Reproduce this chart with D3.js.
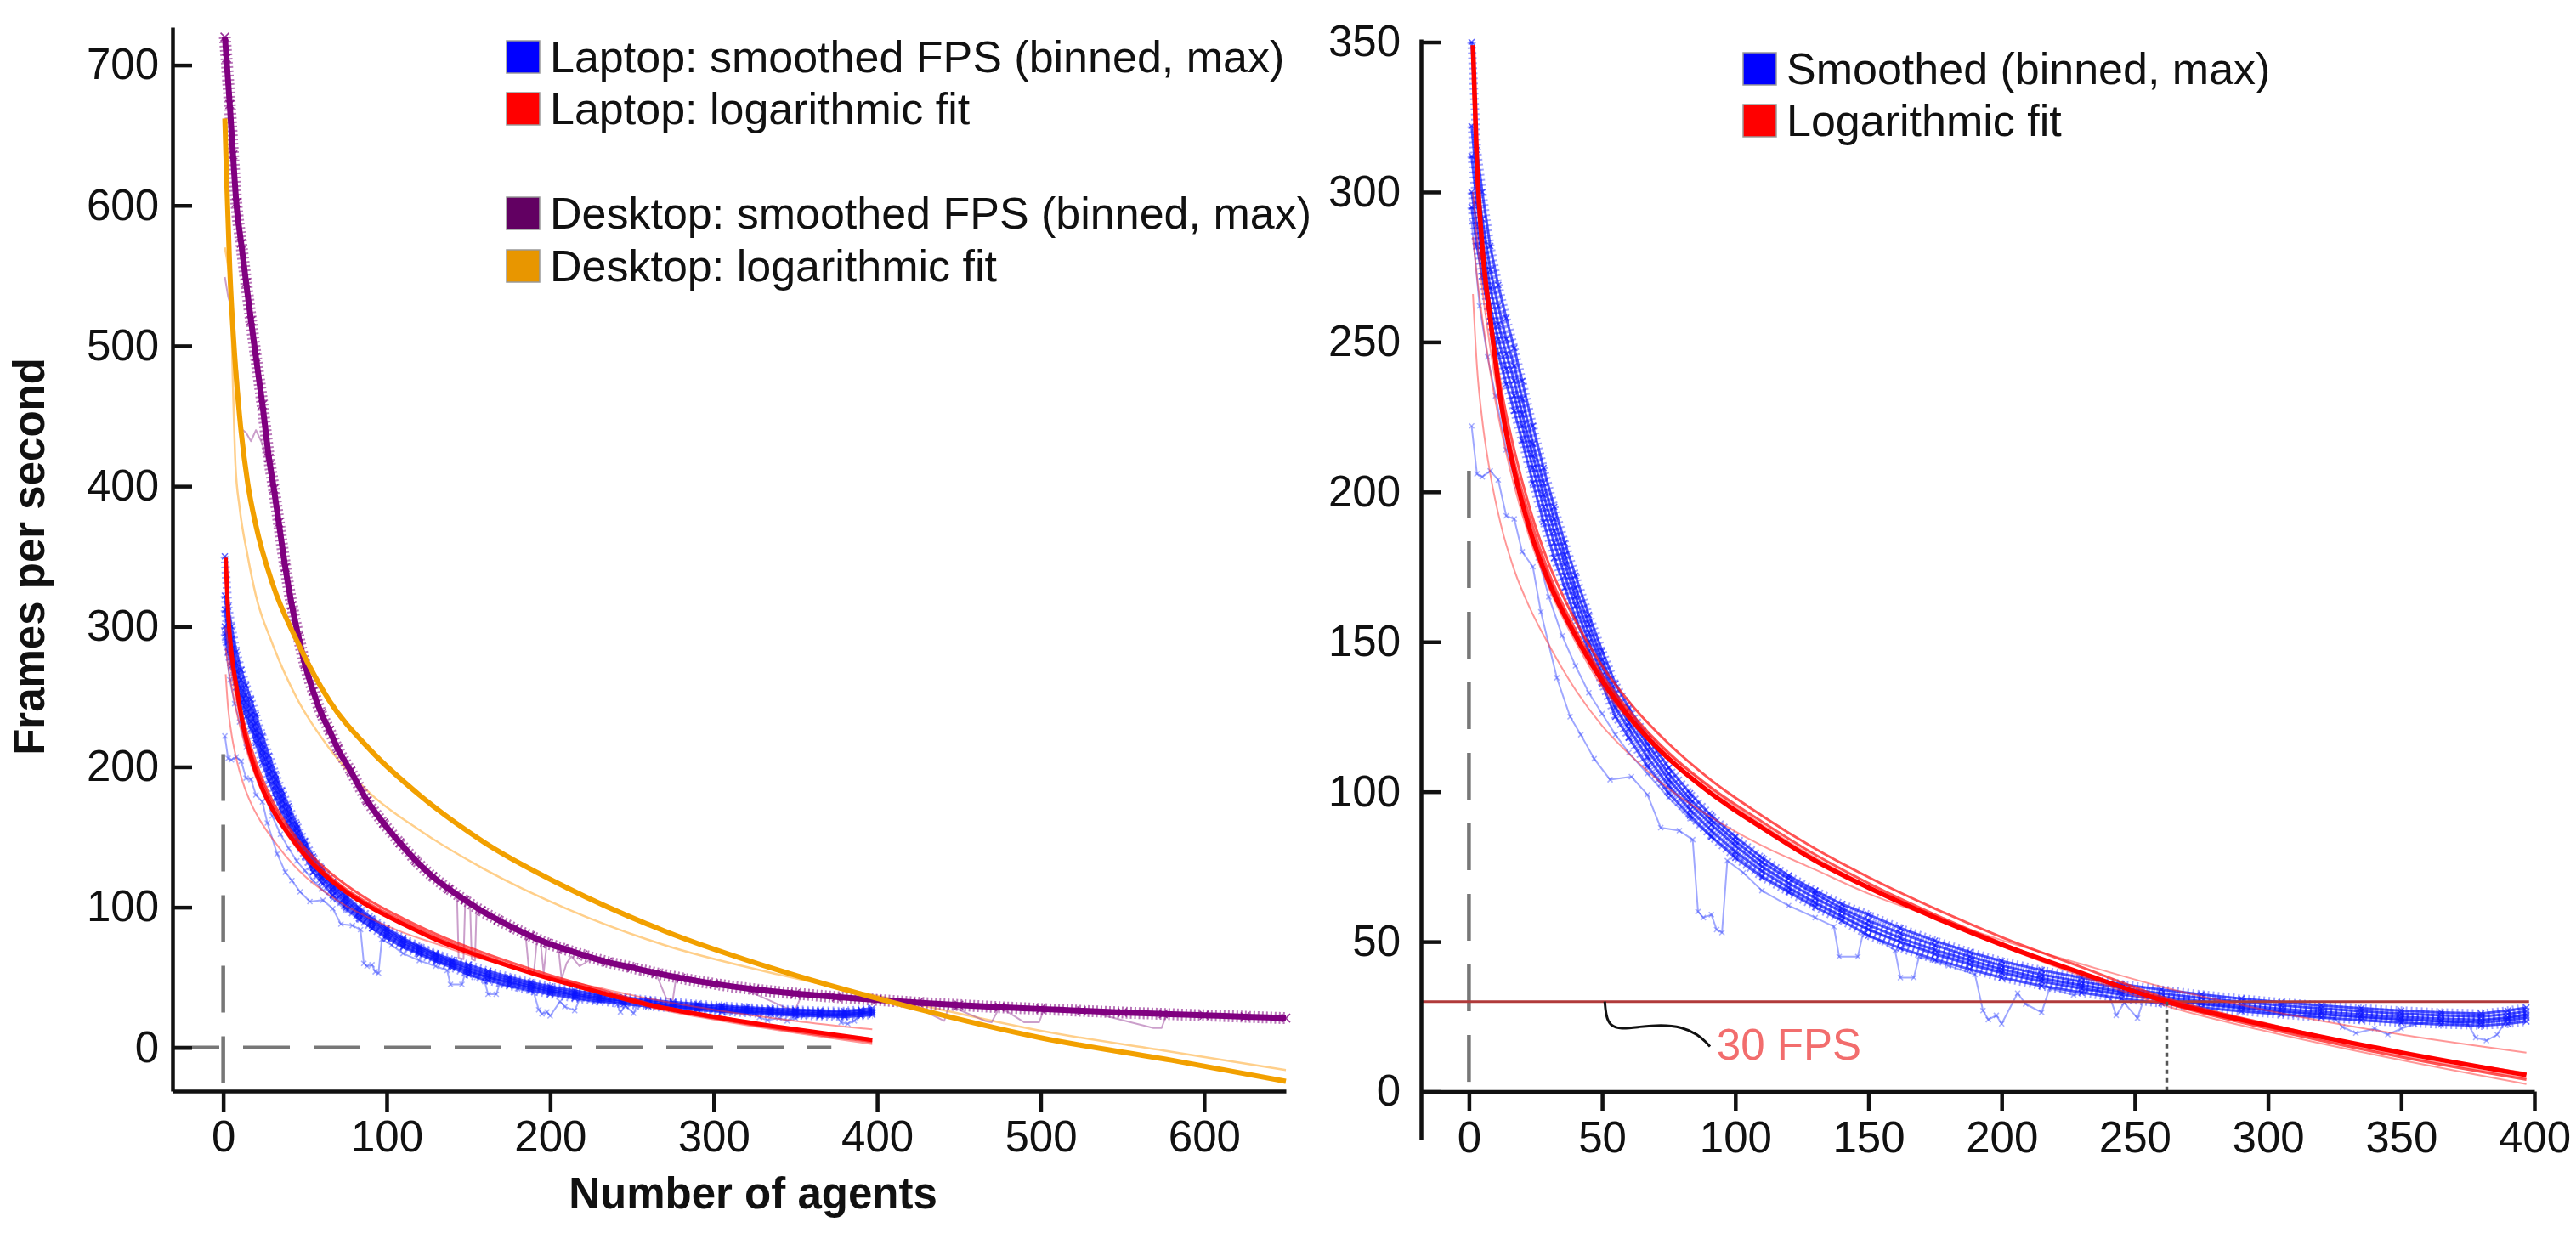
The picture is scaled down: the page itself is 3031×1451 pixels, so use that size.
<!DOCTYPE html>
<html>
<head>
<meta charset="utf-8">
<script src="https://cdn.jsdelivr.net/npm/d3@7"></script>
<style>
  body { margin: 0; background: #fff; }
  svg text { font-family: "Liberation Sans", Arial, Helvetica, sans-serif; fill: #111; }
</style>
</head>
<body>
<svg id="fig" width="3031" height="1451"></svg>
<script>
// ---------------- data ----------------

// laptop: number of agents per bin, shared by the five main runs
const laptopX = [1,3,5,8,11,14,17,20,24,28, 32,36,40,45,50,55,60,67,75,83,
                 91,100,110,120,130,140,150,162,175,188, 200,215,230,245,260,275,290,305,320,335,
                 350,365,380,390,397];
const laptopRunA = [350,314,300,282,269,258,248,237,222,208, 195,183,172,159,147,136,128,118,108,99.5,
                    92,85,78,72,67,62.5,59,54.5,50.3,46.5, 43.5,40.5,38,35.8,34,32.4,31,29.8,28.7,27.8,
                    27,26.4,26,27,28];
const laptopRunB = [322,303,291,274,262,251,242,231,216,203, 191,179,168,156,144,133,125,116,106,97.5,
                    90.5,83.5,76.5,71,66,61,57,52.8,48.8,45, 42,39,36.6,34.5,32.7,31.2,29.9,28.7,27.7,26.8,
                    26,25.4,25,25.8,26.8];
const laptopRunC = [312,296,284,268,256,246,237,226,212,199, 187,176,165,153,142,131,123,114,104,96,
                    89,82,75,69.5,64.5,60,55.5,51.2,47.2,43.8, 40.8,37.8,35.5,33.4,31.6,30.1,28.8,27.6,26.6,25.7,
                    24.9,24.3,23.9,24.7,25.6];
const laptopRunD = [300,289,278,262,251,241,232,222,208,195, 183,172,162,150,139,128,121,111.5,102,94,
                    87,80,73.5,68,63,58.5,54,49.8,45.8,42.4, 39.6,36.7,34.4,32.4,30.7,29.3,28,26.8,25.8,24.9,
                    24.1,23.5,23,23.8,24.6];
const laptopRunE = [295,282,272,257,246,236,227,217,203,190, 178,168,158,147,136,125,118,108.5,99.5,92,
                    85,78,71.5,66.5,61.5,57,52,47.8,44,40.8, 38,35.2,33,31,29.4,28,26.8,25.7,24.7,23.8,
                    23,22.4,22,22.6,23.4];

// laptop: two irregular runs [agents, fps]
const laptopOutlier1 = [[1,222],[3,206],[5,205],[8,207],[11,204],[14,192],[17,191],[20,180],[24,175],[27,160],
  [33,138],[38,125],[42,119],[47,111],[53,104],[61,105],[67,99],[72,88],[79,87],[84,84],
  [86,60],[88,58],[91,59],[93,54],[95,53],[97,77],[103,73],[110,67],[120,62],[130,58],
  [137,55],[139,45],[146,45],[148,53],[155,50],[160,47],[162,38],[167,38],[169,45],[180,42],
  [190,39],[193,27],[195,24],[198,25.4],[200,22.6],[206,32.8],[209,29.2],[215,26.4],[218,34.4],[227,32.2],
  [232,33.5],[236,34],[241,30.6],[243,25.4],[246,29.6],[251,24.5],[254,32.5],[260,29.6],[270,29.5],[290,27.5],
  [310,25.5],[325,24.5],[328,21.5],[333,19.5],[340,21],[345,19],[350,21],[355,22.5],[365,23.5],[375,22.5],
  [378,18],[382,17],[386,19],[390,24.5],[397,26]];
const laptopOutlier2 = [[1,290],[4,262],[7,245],[10,232],[14,214],[18,202],[22,190],[26,178],[30,165],[35,152],
  [40,142],[45,133],[50,126],[55,119],[60,113],[67,106],[75,98],[83,91],[91,85],[100,79],
  [110,72],[120,67],[130,62.5],[140,58],[150,54],[165,49],[180,45],[200,40],[230,35],[260,31],
  [300,27],[340,24.5],[370,23],[397,25]];

// laptop: logarithmic fits, sampled along the drawn curves
const fitX    = [1.5,3,5,8,12,17,23,30,40,50,62,75,90,110,130,150,175,200,230,262,300,350,397];
const fitMain = [349,310,282,258,230,207,187,170,152,137,123,111,100,88,77,68,58,49,39.5,30,22,13,5.5];
const fitA    = [345,308,282,259,235,214,194,176,157,142,128,116,104.5,92,81,71.5,61,51.5,41.5,31,22.5,13,6];
const fitB    = [338,303,278,255,231,210,191,173,154,139,125,113,102,90,79,69.5,59,49.5,39.5,29.5,21,11.5,4];
const fitC    = [300,285,268,248,227,207,189,172,153,138,124.5,112.5,101.5,89,78,68.5,58,48.5,38.5,28.5,20,10.5,2.5];
const fitD    = [285,272,258,240,221,202,184,168,150,135,122,110.5,100,88,77.5,68,58,49,39.5,30,21.5,12,4.5];
const fitFlat = [266,242,224,206,189,174,161,149,134,122,111,101,92,82,74,66,58,50.5,42.5,34.5,27,19,13];

// desktop: smoothed fps band and one irregular run [agents, fps]
const desktopBand = [[1,720],[2,705],[4,672],[6,636],[8,602],[11,573],[14,545],[17,518],[20,492],[24,458],
  [28,420],[31,398],[34,374],[38,342],[42,315],[46,293],[50,273],[55,254],[60,238],[65,226],
  [70,213],[78,197],[88,176],[98,160],[108,146],[118,133],[128,122],[138,113],[148,105],[158,97.5],
  [168,91],[178,85],[188,79.5],[198,74.5],[208,70.5],[220,66],[235,61],[250,57],[265,53],[280,49.5],
  [300,45.5],[325,41.5],[350,38.5],[375,36],[400,34],[425,32],[450,30.3],[475,28.8],[500,27.5],[525,26.2],
  [550,25],[575,24],[600,23],[625,22],[650,21]];
const desktopOutlier = [[1,549],[3,535],[5,527],[7,500],[9,478],[11,441],[14,438],[17,432],[20,440],[24,430],
  [28,412],[40,322],[60,235],[80,192],[100,156],[120,130],[140,111],[143,108],[144,64],[147,63],
  [148,103],[151,102],[152,63],[154,62],[155,101],[170,89],[185,80],[187,55],[190,53],[192,78],
  [194,77],[196,53],[198,75],[205,71],[207,49],[210,60],[213,65],[218,58],[225,63],[235,59],
  [250,56],[265,52],[271,35],[275,34],[277,50],[300,44],[320,41],[345,28],[350,27],[354,38],
  [375,35],[400,33],[420,31],[441,19],[444,30],[466,19],[470,18],[475,29],[490,18],[499,18],
  [502,27],[530,25.5],[569,14],[574,14],[577,23.5],[600,22.5],[650,20.5]];

// desktop: logarithmic fits
const desktopFitX      = [1,2,4,7,10,15,20,30,45,65,90,120,160,210,270,340,420,500,580,650];
const desktopFitMain   = [662,622,555,493,450,402,372,331,290,247,212,180,146,114,83,55,29,7,-9,-24];
const desktopFitLightX = [1,3,4.5,6,7.5,10,15,20,30,45,65,90,120,160,210,270,340,420,500,580,650];
const desktopFitLight  = [570,556,540,470,415,385,350,322,288,249,213,181,155,127,99,73,52,32,12,-3,-16];

// axes and labels
const leftXTicks  = [0,100,200,300,400,500,600];
const leftYTicks  = [0,100,200,300,400,500,600,700];
const rightXTicks = [0,50,100,150,200,250,300,350,400];
const rightYTicks = [0,50,100,150,200,250,300,350];
const leftLegendLabels  = ["Laptop: smoothed FPS (binned, max)", "Laptop: logarithmic fit",
                           "Desktop: smoothed FPS (binned, max)", "Desktop: logarithmic fit"];
const leftLegendColors  = ["#0000ff", "#ff0000", "#620062", "#e89600"];
const rightLegendLabels = ["Smoothed (binned, max)", "Logarithmic fit"];
const rightLegendColors = ["#0000ff", "#ff0000"];
const targetFps = 30;
const crossingAgents = 262;
const calloutPts = [[51,30],[51.5,25],[53,22],[57,20.8],[64,21.6],[72,22.3],[80,21.6],[86,19],[89,16.5],[90.5,15]];

// ---------------- drawing ----------------
const svg = d3.select("#fig");
const ink = "#111";

const laptopRuns = [laptopRunA, laptopRunB, laptopRunC, laptopRunD, laptopRunE]
  .map(r => laptopX.map((x, i) => [x, r[i]]));
const zip = (xs, ys) => xs.map((x, i) => [x, ys[i]]);

// scales
const xL = d3.scaleLinear().domain([-31, 650]).range([203, 1513]);
const yL = d3.scaleLinear().domain([-31, 727]).range([1284, 32]);
const xR = d3.scaleLinear().domain([-18, 400]).range([1672, 2982]);
const yR = d3.scaleLinear().domain([-16, 351]).range([1341, 46]);

function path(g, pts, x, y, o) {
  const line = d3.line().x(d => x(d[0])).y(d => y(d[1]));
  if (o.smooth) line.curve(d3.curveMonotoneX);
  return g.append("path").datum(pts).attr("d", line)
    .attr("fill", "none").attr("stroke", o.color).attr("stroke-width", o.width)
    .attr("stroke-opacity", o.opacity == null ? 1 : o.opacity)
    .attr("stroke-linejoin", "round").attr("stroke-dasharray", o.dash || null);
}

function crosses(g, pts, x, y, color, s, op) {
  g.append("g").selectAll("path").data(pts).join("path")
    .attr("d", `M${-s},${-s}L${s},${s}M${-s},${s}L${s},${-s}`)
    .attr("transform", d => `translate(${x(d[0])},${y(d[1])})`)
    .attr("stroke", color).attr("stroke-width", 1.6).attr("stroke-opacity", op);
}

function styleAxis(g) {
  g.attr("font-size", 51).attr("font-family", null);
  g.selectAll("text").attr("fill", ink);
  g.selectAll(".domain, line").attr("stroke", ink).attr("stroke-width", 4.5);
}

function laptopData(g, x, y) {
  [laptopOutlier1, laptopOutlier2].forEach(r => {
    path(g, r, x, y, {color: "#2a3cff", width: 2, opacity: 0.45});
    crosses(g, r, x, y, "#2a3cff", 3, 0.4);
  });
  laptopRuns.forEach(r => {
    path(g, r, x, y, {color: "#0a14ff", width: 10, opacity: 0.4, dash: "2,4"});
    path(g, r, x, y, {color: "#0a14ff", width: 3, opacity: 0.7});
    crosses(g, r, x, y, "#0a14ff", 3.5, 0.65);
  });
}

function laptopFits(g, x, y, thick) {
  [fitFlat, fitC, fitD].forEach(f =>
    path(g, zip(fitX, f), x, y, {color: "#ff3030", width: 2, opacity: 0.5, smooth: true}));
  [fitA, fitB].forEach(f =>
    path(g, zip(fitX, f), x, y, {color: "#ff1a1a", width: 3, opacity: 0.75, smooth: true}));
  path(g, zip(fitX, fitMain), x, y, {color: "#ff0000", width: thick, smooth: true});
}

function legend(labels, colors, x0, rows) {
  const g = svg.append("g");
  labels.forEach((t, i) => {
    g.append("rect").attr("x", x0).attr("y", rows[i] - 19).attr("width", 39).attr("height", 38)
      .attr("fill", colors[i]).attr("stroke", "#999").attr("stroke-width", 1.5);
    g.append("text").attr("x", x0 + 51).attr("y", rows[i] + 18).attr("font-size", 52).text(t);
  });
}

// ---- left panel ----
const gl = svg.append("g");

// reference dashes at x=0 and y=0
path(gl, [[0, 209], [0, -31]], xL, yL, {color: "#777", width: 4.5, dash: "55,28"});
path(gl, [[-31, 0], [372, 0]], xL, yL, {color: "#777", width: 4.5, dash: "55,28"});

path(gl, zip(desktopFitLightX, desktopFitLight), xL, yL, {color: "#ffcf8a", width: 2.5, smooth: true});
path(gl, desktopOutlier, xL, yL, {color: "#a050a0", width: 2, opacity: 0.55});
path(gl, desktopBand, xL, yL, {color: "#8a1a8a", width: 14, opacity: 0.6, dash: "2,3", smooth: true});
path(gl, desktopBand, xL, yL, {color: "#800080", width: 7, smooth: true});
crosses(gl, desktopBand, xL, yL, "#800080", 5, 0.8);

laptopData(gl, xL, yL);
laptopFits(gl, xL, yL, 5);

path(gl, zip(desktopFitX, desktopFitMain), xL, yL, {color: "#f2a000", width: 6, smooth: true});

gl.append("g").attr("transform", `translate(0,${yL(-31)})`)
  .call(d3.axisBottom(xL).tickValues(leftXTicks).tickSize(25).tickPadding(10).tickSizeOuter(0))
  .call(styleAxis);
gl.append("g").attr("transform", `translate(${xL(-31)},0)`)
  .call(d3.axisLeft(yL).tickValues(leftYTicks).tickSize(-23).tickPadding(16).tickSizeOuter(0))
  .call(styleAxis);

gl.append("text").attr("transform", "translate(34,655) rotate(-90)")
  .attr("text-anchor", "middle").attr("dy", "0.35em")
  .attr("font-size", 51).attr("font-weight", "bold").text("Frames per second");
gl.append("text").attr("x", 886).attr("y", 1422)
  .attr("text-anchor", "middle").attr("font-size", 51).attr("font-weight", "bold")
  .text("Number of agents");

legend(leftLegendLabels, leftLegendColors, 596, [67, 128, 251, 313]);

// ---- right panel ----
const gr = svg.append("g");

path(gr, [[0, 207], [0, 2]], xR, yR, {color: "#777", width: 4.5, dash: "55,28"});
laptopData(gr, xR, yR);
path(gr, [[-18, targetFps], [398, targetFps]], xR, yR, {color: "#b03a3a", width: 3});
laptopFits(gr, xR, yR, 5.5);
path(gr, [[crossingAgents, targetFps], [crossingAgents, 0]], xR, yR, {color: "#555", width: 3.5, dash: "5,5"});

const callout = d3.line().curve(d3.curveBasis).x(d => xR(d[0])).y(d => yR(d[1]));
gr.append("path").datum(calloutPts).attr("d", callout)
  .attr("fill", "none").attr("stroke", ink).attr("stroke-width", 3);
gr.append("text").attr("x", xR(93)).attr("y", yR(10.7))
  .attr("font-size", 51).style("fill", "#f26d6d").text(targetFps + " FPS");

gr.append("g").attr("transform", `translate(0,${yR(0)})`)
  .call(d3.axisBottom(xR).tickValues(rightXTicks).tickSize(23).tickPadding(12).tickSizeOuter(0))
  .call(styleAxis);
gr.append("g").attr("transform", `translate(${xR(-18)},0)`)
  .call(d3.axisLeft(yR).tickValues(rightYTicks).tickSize(-24).tickPadding(24).tickSizeOuter(0))
  .call(styleAxis);

legend(rightLegendLabels, rightLegendColors, 2051, [81, 142]);
</script>
</body>
</html>
